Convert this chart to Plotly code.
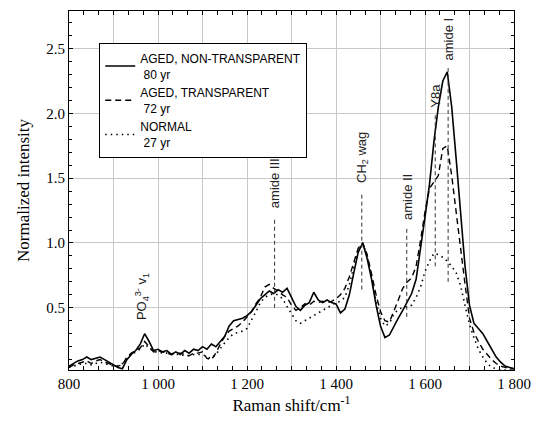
import plotly.graph_objects as go

# Raman shift axis (cm^-1), sampled every 10 cm^-1
raman_shift = list(range(800, 1801, 10))

# AGED, NON-TRANSPARENT lens, 80 yr
aged_non_transparent = [
    0.05, 0.07, 0.09, 0.10, 0.12, 0.10, 0.11, 0.12, 0.10, 0.08,
    0.06, 0.04, 0.03, 0.10, 0.14, 0.17, 0.22, 0.30, 0.24, 0.17,
    0.18, 0.16, 0.17, 0.14, 0.16, 0.14, 0.17, 0.15, 0.18, 0.17,
    0.20, 0.18, 0.22, 0.20, 0.24, 0.28, 0.36, 0.40, 0.41, 0.42,
    0.44, 0.47, 0.52, 0.57, 0.60, 0.63, 0.61, 0.64, 0.62, 0.65,
    0.58, 0.51, 0.48, 0.52, 0.54, 0.62, 0.56, 0.54, 0.56, 0.54,
    0.53, 0.46, 0.49, 0.60, 0.77, 0.93, 1.00, 0.88, 0.72, 0.52,
    0.36, 0.27, 0.29, 0.36, 0.42, 0.48, 0.55, 0.61, 0.72, 0.95,
    1.20, 1.45, 1.78, 2.05, 2.25, 2.32, 2.05, 1.65, 1.22, 0.82,
    0.52, 0.38, 0.34, 0.30, 0.24, 0.18, 0.12, 0.08, 0.05, 0.04,
    0.03,
]

# AGED, TRANSPARENT lens, 72 yr
aged_transparent = [
    0.04, 0.06, 0.07, 0.08, 0.09, 0.07, 0.09, 0.10, 0.08, 0.07,
    0.05, 0.05, 0.06, 0.12, 0.15, 0.17, 0.19, 0.24, 0.20, 0.16,
    0.17, 0.16, 0.15, 0.14, 0.15, 0.15, 0.14, 0.13, 0.15, 0.15,
    0.16, 0.11, 0.10, 0.15, 0.22, 0.28, 0.32, 0.34, 0.36, 0.39,
    0.43, 0.47, 0.53, 0.58, 0.66, 0.68, 0.65, 0.63, 0.60, 0.58,
    0.52, 0.48, 0.50, 0.53, 0.52, 0.55, 0.54, 0.55, 0.54, 0.55,
    0.57, 0.60, 0.65, 0.74, 0.85, 0.96, 1.00, 0.91, 0.76, 0.60,
    0.47, 0.40, 0.39, 0.47, 0.56, 0.65, 0.70, 0.73, 0.82, 1.02,
    1.24, 1.42, 1.47, 1.52, 1.73, 1.75, 1.52, 1.23, 0.97, 0.68,
    0.42, 0.31, 0.24, 0.18, 0.14, 0.10, 0.07, 0.05, 0.04, 0.03,
    0.03,
]

# NORMAL lens, 27 yr
normal = [
    0.04, 0.05, 0.06, 0.07, 0.07, 0.06, 0.07, 0.08, 0.07, 0.06,
    0.05, 0.05, 0.07, 0.11, 0.14, 0.16, 0.18, 0.22, 0.19, 0.16,
    0.16, 0.15, 0.15, 0.14, 0.14, 0.14, 0.13, 0.13, 0.14, 0.14,
    0.14, 0.12, 0.11, 0.14, 0.19, 0.23, 0.27, 0.30, 0.31, 0.32,
    0.34, 0.40, 0.47, 0.54, 0.58, 0.60, 0.61, 0.60, 0.57, 0.51,
    0.45, 0.40, 0.38, 0.40, 0.42, 0.44, 0.46, 0.48, 0.50, 0.52,
    0.54, 0.55, 0.58, 0.68, 0.82, 0.95, 1.00, 0.90, 0.72, 0.55,
    0.42, 0.36, 0.38, 0.45, 0.49, 0.50, 0.51, 0.52, 0.58, 0.66,
    0.78, 0.86, 0.92, 0.91, 0.89, 0.86, 0.82, 0.77, 0.67, 0.52,
    0.37, 0.27, 0.18, 0.12, 0.07, 0.04, 0.03, 0.02, 0.02, 0.02,
    0.02,
]

series_names = [
    "AGED, NON-TRANSPARENT<br> 80 yr",
    "AGED, TRANSPARENT<br> 72 yr",
    "NORMAL<br> 27 yr",
]

# Band assignments: label, position (cm^-1), marker line span (y0, y1), label base
band_labels = ["PO<sub>4</sub><sup>3-</sup> v<sub>1</sub>", "amide III",
               "CH<sub>2</sub> wag", "amide II", "Y8a", "amide I"]
band_positions = [963, 1262, 1458, 1559, 1623, 1652]
band_line_spans = [None, (0.50, 1.20), (0.64, 1.39), (0.43, 1.12), (0.82, 2.00), (0.70, 2.35)]
band_label_base = [0.39, 1.25, 1.45, 1.16, 2.03, 2.39]

x_tick_vals = [800, 1000, 1200, 1400, 1600, 1800]
x_tick_text = ["800", "1 000", "1 200", "1 400", "1 600", "1 800"]
y_tick_vals = [0.5, 1.0, 1.5, 2.0, 2.5]
y_tick_text = ["0.5", "1.0", "1.5", "2.0", "2.5"]

serif = "Liberation Serif, Times New Roman, serif"
sans = "Liberation Sans, Arial, sans-serif"

fig = go.Figure()
styles = [
    dict(color="black", width=1.6, dash="solid"),
    dict(color="black", width=1.4, dash="6px,4px"),
    dict(color="black", width=1.6, dash="1.5px,4px"),
]
for name, ys, st in zip(series_names, [aged_non_transparent, aged_transparent, normal], styles):
    fig.add_trace(go.Scatter(x=raman_shift, y=ys, mode="lines", name=name, line=st))

for label, pos, span, base in zip(band_labels, band_positions, band_line_spans, band_label_base):
    if span is not None:
        fig.add_shape(type="line", xref="x", yref="y", x0=pos, x1=pos, y0=span[0], y1=span[1],
                      line=dict(color="#333333", width=1, dash="4px,3px"))
    fig.add_annotation(x=pos, y=base, xref="x", yref="y", text=label, showarrow=False,
                       textangle=-90, xanchor="center", yanchor="bottom",
                       font=dict(family=sans, size=13, color="#222222"))

frame = dict(showline=True, linecolor="black", linewidth=1, mirror="ticks", zeroline=False)
tick_font = dict(family=serif, size=15, color="black")

fig.update_xaxes(
    range=[800, 1800], tickmode="array", tickvals=x_tick_vals, ticktext=x_tick_text,
    ticks="", showgrid=True, gridcolor="#c8c8c8", gridwidth=1, tickfont=tick_font,
    title=dict(text="Raman shift/cm<sup>-1</sup>", font=dict(family=serif, size=17, color="black"), standoff=8),
    minor=dict(dtick=100, tick0=800, ticks="", showgrid=True, gridcolor="#c8c8c8", gridwidth=1),
    **frame,
)
fig.update_yaxes(
    range=[0.02, 2.79], tickmode="array", tickvals=y_tick_vals, ticktext=y_tick_text,
    ticks="inside", ticklen=4, tickcolor="black",
    showgrid=True, gridcolor="#c8c8c8", gridwidth=1, tickfont=tick_font,
    title=dict(text="Normalized intensity", font=dict(family=serif, size=17, color="black"), standoff=12),
    minor=dict(dtick=0.1, tick0=0, ticks="inside", ticklen=3, tickcolor="black", showgrid=False),
    **frame,
)

# Overlay axis carrying the fine x tick marks (every 1/3 of 100 cm^-1) on bottom and top edges
fig.update_layout(
    xaxis2=dict(
        overlaying="x", matches="x", side="bottom", range=[800, 1800],
        tickmode="linear", tick0=800, dtick=100 / 3,
        ticks="inside", ticklen=4, tickcolor="black", showticklabels=False,
        showgrid=False, zeroline=False, showline=False, mirror="ticks",
    ),
)
fig.add_trace(go.Scatter(x=[800, 1800], y=[None, None], xaxis="x2", yaxis="y",
                         showlegend=False, hoverinfo="skip"))

fig.update_layout(
    width=541, height=423,
    margin=dict(l=69, r=19, t=10, b=53),
    paper_bgcolor="white", plot_bgcolor="white",
    showlegend=True,
    legend=dict(
        x=0.068, y=0.911, xanchor="left", yanchor="top",
        bgcolor="white", bordercolor="black", borderwidth=1,
        font=dict(family=sans, size=12, color="black"),
        itemwidth=30, tracegroupgap=0,
    ),
)

fig.write_html("out.html")
